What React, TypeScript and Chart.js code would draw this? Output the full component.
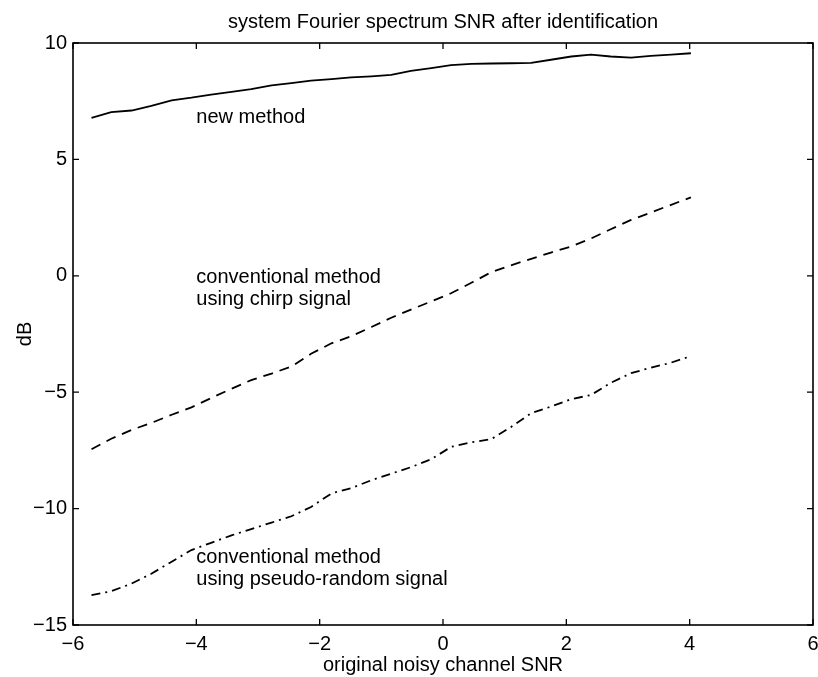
import React, { useEffect, useRef } from "react";
import { Chart, registerables } from "chart.js";

Chart.register(...registerables);

const chartTitle = "system Fourier spectrum SNR after identification";

const snrX = [-5.7, -5.38, -5.05, -4.73, -4.4, -4.08, -3.76, -3.43, -3.11, -2.78, -2.46, -2.14, -1.81, -1.49, -1.16, -0.84, -0.52, -0.19, 0.13, 0.46, 0.78, 1.1, 1.43, 1.75, 2.08, 2.4, 2.72, 3.05, 3.37, 3.7, 4.02];

const newMethod = [6.78, 7.03, 7.1, 7.3, 7.54, 7.65, 7.78, 7.9, 8.02, 8.18, 8.28, 8.38, 8.45, 8.52, 8.57, 8.63, 8.8, 8.92, 9.05, 9.1, 9.12, 9.13, 9.15, 9.28, 9.42, 9.5, 9.42, 9.37, 9.45, 9.5, 9.56];

const chirpMethod = [-7.45, -7.0, -6.62, -6.32, -5.97, -5.65, -5.25, -4.85, -4.48, -4.2, -3.9, -3.35, -2.9, -2.6, -2.2, -1.8, -1.45, -1.1, -0.75, -0.3, 0.15, 0.45, 0.73, 1.0, 1.26, 1.6, 2.0, 2.4, 2.72, 3.05, 3.37];

const pseudoRandomMethod = [-13.72, -13.55, -13.22, -12.8, -12.28, -11.78, -11.47, -11.15, -10.88, -10.6, -10.33, -9.93, -9.35, -9.12, -8.78, -8.5, -8.22, -7.88, -7.35, -7.15, -7.02, -6.5, -5.9, -5.62, -5.3, -5.12, -4.6, -4.18, -3.95, -3.73, -3.45];

const xTicks = [-6, -4, -2, 0, 2, 4, 6];
const yTicks = [-15, -10, -5, 0, 5, 10];

const annotationText = ["new method", "conventional method", "using chirp signal", "conventional method", "using pseudo-random signal"];
const annotationX = [-4, -4, -4, -4, -4];
const annotationY = [6.56, -0.3, -1.25, -12.35, -13.28];

const FONT = "'Liberation Sans', Arial, Helvetica, sans-serif";

const fmt = (v: number) => (v < 0 ? "\u2212" + Math.abs(v) : String(v));

const framePlugin = {
  id: "matlabFrame",
  afterDraw(chart: any) {
    const { ctx, chartArea: a, scales } = chart;
    const xs = scales.x;
    const ys = scales.y;
    ctx.save();
    ctx.strokeStyle = "#000";
    ctx.lineWidth = 1.6;
    ctx.strokeRect(a.left, a.top, a.right - a.left, a.bottom - a.top);
    ctx.lineWidth = 1.3;
    const tl = 6;
    ctx.beginPath();
    xTicks.forEach((t) => {
      const px = xs.getPixelForValue(t);
      ctx.moveTo(px, a.bottom);
      ctx.lineTo(px, a.bottom - tl);
      ctx.moveTo(px, a.top);
      ctx.lineTo(px, a.top + tl);
    });
    yTicks.forEach((t) => {
      const py = ys.getPixelForValue(t);
      ctx.moveTo(a.left, py);
      ctx.lineTo(a.left + tl, py);
      ctx.moveTo(a.right, py);
      ctx.lineTo(a.right - tl, py);
    });
    ctx.stroke();
    ctx.fillStyle = "#000";
    ctx.font = `20px ${FONT}`;
    ctx.textAlign = "center";
    ctx.textBaseline = "middle";
    ctx.fillText(chartTitle, (a.left + a.right) / 2, 22);
    ctx.textAlign = "left";
    ctx.textBaseline = "alphabetic";
    annotationText.forEach((t, i) => {
      ctx.fillText(t, xs.getPixelForValue(annotationX[i]), ys.getPixelForValue(annotationY[i]));
    });
    ctx.restore();
  },
};

export default function App() {
  const ref = useRef<HTMLCanvasElement | null>(null);
  useEffect(() => {
    document.body.style.margin = "0";
    const mk = (vals: number[]) => snrX.map((x, i) => ({ x, y: vals[i] }));
    const common = { borderColor: "#000", borderWidth: 1.8, pointRadius: 0, fill: false, tension: 0 };
    const chart = new Chart(ref.current as HTMLCanvasElement, {
      type: "line",
      data: {
        datasets: [
          { label: "new method", data: mk(newMethod), ...common },
          { label: "conventional method using chirp signal", data: mk(chirpMethod), ...common, borderDash: [10, 7] },
          { label: "conventional method using pseudo-random signal", data: mk(pseudoRandomMethod), ...common, borderDash: [9, 5, 2, 5] },
        ],
      },
      options: {
        responsive: false,
        animation: false,
        layout: { padding: { left: 0, right: 5, top: 43, bottom: 0 } },
        plugins: {
          legend: { display: false },
          tooltip: { enabled: false },
          title: { display: false },
        },
        scales: {
          x: {
            type: "linear",
            min: -6,
            max: 6,
            afterBuildTicks: (s: any) => { s.ticks = xTicks.map((v) => ({ value: v })); },
            afterFit: (s: any) => { s.height = 52; s.paddingLeft = 0; s.paddingRight = 0; },
            grid: { display: false, drawTicks: false },
            border: { display: false },
            ticks: { color: "#000", padding: 7, font: { family: FONT, size: 20 }, maxRotation: 0, callback: (v: any) => fmt(Number(v)) },
            title: { display: true, text: "original noisy channel SNR", color: "#000", font: { family: FONT, size: 20 }, padding: { top: 0, bottom: 0 } },
          },
          y: {
            type: "linear",
            min: -15,
            max: 10,
            afterBuildTicks: (s: any) => { s.ticks = yTicks.map((v) => ({ value: v })); },
            afterFit: (s: any) => { s.width = 73; s.paddingTop = 0; s.paddingBottom = 0; },
            grid: { display: false, drawTicks: false },
            border: { display: false },
            ticks: { color: "#000", padding: 6, font: { family: FONT, size: 20 }, callback: (v: any) => fmt(Number(v)) },
            title: { display: true, text: "dB", color: "#000", font: { family: FONT, size: 20 }, padding: { top: 13, bottom: 0 } },
          },
        },
      },
      plugins: [framePlugin],
    } as any);
    return () => chart.destroy();
  }, []);
  return <canvas ref={ref} width={818} height={677} style={{ display: "block" }} />;
}
